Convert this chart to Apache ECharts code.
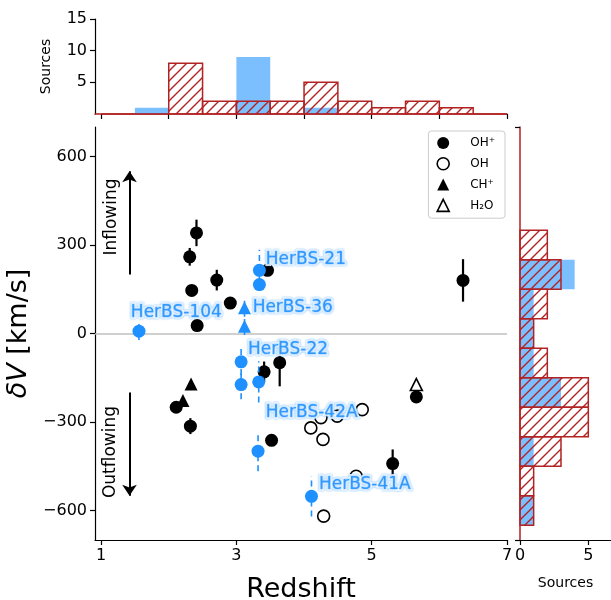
<!DOCTYPE html>
<html>
<head>
    <meta charset="utf-8">
    <script src="https://cdn.jsdelivr.net/npm/echarts@6/dist/echarts.min.js"></script>
    <style>
        body, html { margin: 0; height: 100%; background: #fff; }
        #main { width: 611px; height: 600px; }
    </style>
</head>
<body>
<div id="main"></div>
<script>
    // [redshift, dV, error]
    var ohPlus = [
        [2.41, 341, 45], [2.31, 260, 30], [2.34, 146, 0], [2.71, 181, 35],
        [2.91, 103, 0], [2.42, 27, 0], [3.46, 214, 0], [3.41, -130, 35],
        [3.64, -99, 80], [2.11, -250, 0], [2.32, -314, 27], [3.52, -362, 0],
        [5.31, -441, 48], [5.66, -215, 0], [6.35, 180, 72]
    ];
    var oh = [
        [4.10, -320], [4.28, -359], [4.86, -258], [4.25, -285],
        [4.49, -280], [4.77, -484], [4.29, -619]
    ];
    var chPlus = [[2.33, -171], [2.21, -227]];
    var h2o = [[5.66, -173]];
    // HerBS sources (blue): circles and triangles
    var herbsCircles = [
        [1.56, 8, 30], [3.34, 214, 70], [3.34, 166, 0], [3.07, -96, 45],
        [3.07, -173, 50], [3.33, -164, 70], [3.32, -399, 68], [4.11, -552, 68]
    ];
    var herbsTriangles = [[3.12, 87, 30], [3.12, 25, 30]];
    // name labels: [z, dV, text]
    var herbsNames = [
        [3.435, 251, 'HerBS-21'], [3.24, 88, 'HerBS-36'], [1.44, 71, 'HerBS-104'],
        [3.17, -54, 'HerBS-22'], [3.435, -268, 'HerBS-42A'], [4.22, -512, 'HerBS-41A']
    ];

    // histograms
    var zEdges = [1, 1.5, 2, 2.5, 3, 3.5, 4, 4.5, 5, 5.5, 6, 6.5, 7];
    var zCountAll = [0, 0, 8, 2, 2, 2, 5, 2, 1, 2, 1, 0];
    var zCountHerbs = [0, 1, 0, 0, 9, 0, 1, 0, 0, 0, 0, 0];
    var vEdges = [-650, -550, -450, -350, -250, -150, -50, 50, 150, 250, 350];
    var vCountAll = [1, 1, 3, 5, 5, 2, 1, 2, 3, 2];
    var vCountHerbs = [1, 0, 1, 0, 3, 1, 1, 1, 4, 0];

    var RED = '#b22222';
    var BLUE = '#1e90ff';
    var BLUE_BAR = 'rgba(30,144,255,0.58)';
    var FONT = 'DejaVu Sans';

    function hatchPattern() {
        var c = document.createElement('canvas');
        c.width = 10; c.height = 10;
        var g = c.getContext('2d');
        g.strokeStyle = RED;
        g.lineWidth = 1.4;
        g.beginPath();
        g.moveTo(-1, 11); g.lineTo(11, -1);
        g.moveTo(-6, 6); g.lineTo(6, -6);
        g.moveTo(4, 16); g.lineTo(16, 4);
        g.stroke();
        return c;
    }
    var hatch = { image: hatchPattern(), repeat: 'repeat' };

    function bins(edges, counts) {
        var out = [];
        for (var i = 0; i < counts.length; i++) out.push([edges[i], edges[i + 1], counts[i]]);
        return out;
    }

    function zHist(style) {
        return function (params, api) {
            var p0 = api.coord([api.value(0), api.value(2)]);
            var p1 = api.coord([api.value(1), 0]);
            return { type: 'rect', shape: { x: p0[0], y: p0[1], width: p1[0] - p0[0], height: p1[1] - p0[1] }, style: style };
        };
    }
    function vHist(style) {
        return function (params, api) {
            var p0 = api.coord([0, api.value(1)]);
            var p1 = api.coord([api.value(2), api.value(0)]);
            return { type: 'rect', shape: { x: p0[0], y: p0[1], width: p1[0] - p0[0], height: p1[1] - p0[1] }, style: style };
        };
    }
    function errBar(style) {
        return function (params, api) {
            var e = api.value(2);
            if (!e) return null;
            var a = api.coord([api.value(0), api.value(1) - e]);
            var b = api.coord([api.value(0), api.value(1) + e]);
            return { type: 'line', shape: { x1: a[0], y1: a[1], x2: b[0], y2: b[1] }, style: style };
        };
    }

    var myChart = echarts.init(document.getElementById('main'), null, { renderer: 'canvas' });
    var tickStyle = { color: '#000', width: 1.2 };
    var option = {
        animation: false,
        textStyle: { fontFamily: FONT },
        grid: [
            { left: 95, right: 104, top: 127, bottom: 60, outerBoundsMode: 'none', containLabel: false },
            { left: 95, right: 104, top: 19, bottom: 486, outerBoundsMode: 'none', containLabel: false },
            { left: 520, right: 0, top: 127, bottom: 60, outerBoundsMode: 'none', containLabel: false }
        ],
        xAxis: [
            {
                gridIndex: 0, type: 'value', min: 0.91, max: 7,
                name: 'Redshift', nameLocation: 'middle', nameGap: 36,
                nameTextStyle: { fontSize: 27, color: '#000', fontFamily: FONT },
                axisLine: { onZero: false, lineStyle: tickStyle },
                axisTick: { customValues: [1, 3, 5, 7], length: 5, lineStyle: tickStyle },
                axisLabel: { customValues: [1, 3, 5, 7], fontSize: 16, color: '#000', margin: 8 },
                splitLine: { show: false }
            },
            {
                gridIndex: 1, type: 'value', min: 0.91, max: 7,
                axisLine: { onZero: false, lineStyle: { color: RED, width: 1.5 } },
                axisTick: { customValues: [1, 2, 3, 4, 5, 6, 7], length: 5, lineStyle: tickStyle },
                axisLabel: { show: false },
                splitLine: { show: false }
            },
            {
                gridIndex: 2, type: 'value', min: 0, max: 6.66,
                name: 'Sources', nameLocation: 'middle', nameGap: 36,
                nameTextStyle: { fontSize: 14, color: '#000', fontFamily: FONT },
                axisLine: { onZero: false, lineStyle: tickStyle },
                axisTick: { customValues: [0, 5], length: 5, lineStyle: tickStyle },
                axisLabel: { customValues: [0, 5], fontSize: 16, color: '#000', margin: 8 },
                splitLine: { show: false }
            }
        ],
        yAxis: [
            {
                gridIndex: 0, type: 'value', min: -700, max: 700,
                name: '{i|δV} [km/s]', nameLocation: 'middle', nameGap: 43, nameRotate: 90,
                nameTextStyle: {
                    fontSize: 27, color: '#000', fontFamily: FONT,
                    rich: { i: { fontSize: 27, fontStyle: 'italic', fontFamily: FONT, color: '#000' } }
                },
                axisLine: { onZero: false, lineStyle: tickStyle },
                axisTick: { customValues: [-600, -300, 0, 300, 600], length: 5, lineStyle: tickStyle },
                axisLabel: {
                    customValues: [-600, -300, 0, 300, 600], fontSize: 16, color: '#000', margin: 8,
                    formatter: function (v) { return String(v).replace('-', '\u2212'); }
                },
                splitLine: { show: false }
            },
            {
                gridIndex: 1, type: 'value', min: 0, max: 15, interval: 5,
                name: 'Sources', nameLocation: 'middle', nameGap: 42, nameRotate: 90,
                nameTextStyle: { fontSize: 14, color: '#000', fontFamily: FONT },
                axisLine: { onZero: false, lineStyle: tickStyle },
                axisTick: { length: 5, lineStyle: tickStyle },
                axisLabel: { fontSize: 16, color: '#000', margin: 8, showMinLabel: false },
                splitLine: { show: false }
            },
            {
                gridIndex: 2, type: 'value', min: -700, max: 700,
                axisLine: { onZero: false, lineStyle: { color: RED, width: 1.5 } },
                axisTick: { customValues: [-700, 700], length: 5, lineStyle: tickStyle },
                axisLabel: { show: false },
                splitLine: { show: false }
            }
        ],
        legend: {
            orient: 'vertical', right: 106, top: 131,
            itemWidth: 12, itemHeight: 12, itemGap: 8,
            backgroundColor: '#fff', borderColor: '#cccccc', borderWidth: 1, borderRadius: 3,
            padding: [6, 10, 6, 8],
            textStyle: { fontSize: 12, color: '#000', fontFamily: FONT, padding: [0, 0, 0, 16] },
            data: [
                { name: 'OH\u207A', icon: 'circle', itemStyle: { color: '#000' } },
                { name: 'OH', icon: 'circle', itemStyle: { color: '#fff', borderColor: '#000', borderWidth: 1.6 } },
                { name: 'CH\u207A', icon: 'triangle', itemStyle: { color: '#000' } },
                { name: 'H\u2082O', icon: 'triangle', itemStyle: { color: '#fff', borderColor: '#000', borderWidth: 1.6 } }
            ]
        },
        graphic: [
            { type: 'text', x: 112, y: 217, rotation: Math.PI / 2,
              style: { text: 'Inflowing', fontSize: 17, fontFamily: FONT, fill: '#000', align: 'center', verticalAlign: 'middle' } },
            { type: 'text', x: 111, y: 452, rotation: Math.PI / 2,
              style: { text: 'Outflowing', fontSize: 17, fontFamily: FONT, fill: '#000', align: 'center', verticalAlign: 'middle' } }
        ],
        series: [
            // top histogram
            { type: 'custom', xAxisIndex: 1, yAxisIndex: 1, data: bins(zEdges, zCountHerbs),
              renderItem: zHist({ fill: BLUE_BAR }), z: 2 },
            { type: 'custom', xAxisIndex: 1, yAxisIndex: 1, data: bins(zEdges, zCountAll),
              renderItem: zHist({ fill: hatch, stroke: RED, lineWidth: 1.5 }), z: 3 },
            // right histogram
            { type: 'custom', xAxisIndex: 2, yAxisIndex: 2, data: bins(vEdges, vCountHerbs),
              renderItem: vHist({ fill: BLUE_BAR }), z: 2 },
            { type: 'custom', xAxisIndex: 2, yAxisIndex: 2, data: bins(vEdges, vCountAll),
              renderItem: vHist({ fill: hatch, stroke: RED, lineWidth: 1.5 }), z: 3 },
            // error bars
            { type: 'custom', xAxisIndex: 0, yAxisIndex: 0, data: ohPlus, z: 3,
              renderItem: errBar({ stroke: '#000', lineWidth: 2.2 }) },
            { type: 'custom', xAxisIndex: 0, yAxisIndex: 0, data: herbsCircles.concat(herbsTriangles), z: 5,
              renderItem: errBar({ stroke: BLUE, lineWidth: 1.6, lineDash: [6, 4] }) },
            // main scatter
            {
                name: 'OH\u207A', type: 'scatter', xAxisIndex: 0, yAxisIndex: 0, data: ohPlus,
                symbol: 'circle', symbolSize: 13, itemStyle: { color: '#000', opacity: 1 }, z: 4,
                markLine: {
                    silent: true, animation: false, label: { show: false },
                    symbol: ['none', 'arrow'], symbolSize: 11,
                    data: [
                        [{ coord: [0.91, 0], symbol: 'none' }, { coord: [7, 0], symbol: 'none', lineStyle: { color: '#c0c0c0', width: 1.5, type: 'solid' } }],
                        [{ coord: [1.42, 200] }, { coord: [1.42, 550], lineStyle: { color: '#000', width: 2, type: 'solid' } }],
                        [{ coord: [1.42, -200] }, { coord: [1.42, -550], lineStyle: { color: '#000', width: 2, type: 'solid' } }]
                    ]
                }
            },
            {
                name: 'OH', type: 'scatter', xAxisIndex: 0, yAxisIndex: 0, data: oh,
                symbol: 'circle', symbolSize: 12, z: 4,
                itemStyle: { color: '#fff', borderColor: '#000', borderWidth: 1.6, opacity: 1 }
            },
            {
                name: 'CH\u207A', type: 'scatter', xAxisIndex: 0, yAxisIndex: 0, data: chPlus,
                symbol: 'triangle', symbolSize: 13, itemStyle: { color: '#000', opacity: 1 }, z: 4
            },
            {
                name: 'H\u2082O', type: 'scatter', xAxisIndex: 0, yAxisIndex: 0, data: h2o,
                symbol: 'triangle', symbolSize: 12, z: 4,
                itemStyle: { color: '#fff', borderColor: '#000', borderWidth: 1.6, opacity: 1 }
            },
            {
                type: 'scatter', xAxisIndex: 0, yAxisIndex: 0, data: herbsCircles,
                symbol: 'circle', symbolSize: 13, itemStyle: { color: BLUE, opacity: 1 }, z: 6
            },
            {
                type: 'scatter', xAxisIndex: 0, yAxisIndex: 0, data: herbsTriangles,
                symbol: 'triangle', symbolSize: 13, itemStyle: { color: BLUE, opacity: 1 }, z: 6
            },
            {
                type: 'scatter', xAxisIndex: 0, yAxisIndex: 0, data: herbsNames,
                symbolSize: 0, z: 7, silent: true,
                label: {
                    show: true, position: 'right', distance: 0,
                    formatter: function (p) { return p.value[2]; },
                    fontSize: 17, fontFamily: FONT, color: BLUE,
                    textBorderColor: '#fff', textBorderWidth: 4,
                    textShadowColor: 'rgba(30,144,255,0.9)', textShadowBlur: 1.5
                }
            }
        ]
    };
    myChart.setOption(option);
</script>
</body>
</html>
